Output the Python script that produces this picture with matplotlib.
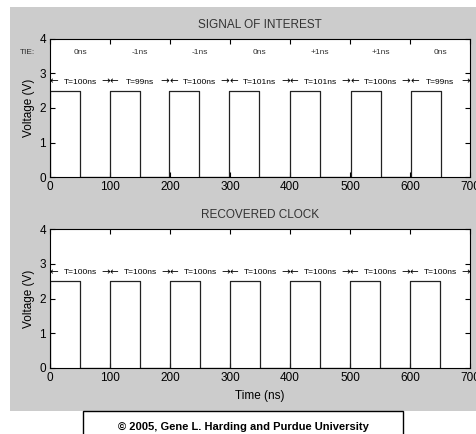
import numpy as np
import matplotlib.pyplot as plt
from matplotlib.patches import Rectangle

plt.rcParams['font.family'] = ['Liberation Sans', 'DejaVu Sans']

# periods of each cycle (ns) and the time interval error shown above them
sig_periods = [100, 99, 100, 101, 101, 100, 99]
sig_tie = ['0ns', '-1ns', '-1ns', '0ns', '+1ns', '+1ns', '0ns']
clk_periods = [100, 100, 100, 100, 100, 100, 100]
high_time = 50
v_high = 2.5


def pulse_train(periods):
    starts = np.concatenate([[0], np.cumsum(periods)[:-1]])
    xs, ys = [], []
    for s in starts:
        xs += [s, s, s + high_time, s + high_time]
        ys += [0, v_high, v_high, 0]
    return starts, xs, ys


def draw_panel(ax, periods, title, tie=None):
    starts, xs, ys = pulse_train(periods)
    ax.plot(xs, ys, color='#222222', lw=0.9)
    ax.set_xlim(0, 700)
    ax.set_ylim(0, 4)
    ax.set_xticks(range(0, 701, 100))
    ax.set_yticks(range(0, 5))
    ax.tick_params(direction='in', top=True, right=True, length=3.5,
                   labelsize=8.5, pad=3)
    for sp in ax.spines.values():
        sp.set_linewidth(0.8)
    ax.set_title(title, fontsize=8.5, color='#333333', pad=8)
    ax.set_ylabel('Voltage (V)', fontsize=8.5, labelpad=3)
    # period markers
    for s, T in zip(starts, periods):
        ax.text(s, 2.76, '\u2190', ha='left', va='center', fontsize=7.5,
                family=['DejaVu Sans'])
        ax.text(s + T, 2.76, '\u2192', ha='right', va='center', fontsize=7.5,
                family=['DejaVu Sans'])
        ax.text(s + T / 2, 2.75, 'T=%dns' % T, ha='center', va='center',
                fontsize=6)
    if tie is not None:
        ax.text(-37, 3.6, 'TIE:', ha='center', va='center', fontsize=6,
                color='#333333')
        for s, t in zip(starts, tie):
            ax.text(s + 50, 3.6, t, ha='center', va='center', fontsize=6,
                    color='#333333')


fig = plt.figure(figsize=(4.76, 4.34), dpi=100)
fig.patch.set_facecolor('white')
fig.patches.append(Rectangle((10 / 476, 1 - 411 / 434), 1, 404 / 434,
                             transform=fig.transFigure, facecolor='#cccccc',
                             edgecolor='none', zorder=-10))

ax1 = fig.add_axes([50 / 476, 1 - 177 / 434, 420 / 476, 138 / 434])
ax2 = fig.add_axes([50 / 476, 1 - 368 / 434, 420 / 476, 139 / 434])

draw_panel(ax1, sig_periods, 'SIGNAL OF INTEREST', sig_tie)
draw_panel(ax2, clk_periods, 'RECOVERED CLOCK')
ax2.set_xlabel('Time (ns)', fontsize=8.5, labelpad=4)

fig.patches.append(Rectangle((83 / 476, -0.05), 320 / 476, 23 / 434 + 0.05,
                             transform=fig.transFigure, facecolor='white',
                             edgecolor='black', lw=1.0))
fig.text(243 / 476, 1 - 427 / 434,
         '\u00a9 2005, Gene L. Harding and Purdue University',
         ha='center', va='center', fontsize=8, fontweight='bold')

fig.savefig('out.png', dpi=100)
